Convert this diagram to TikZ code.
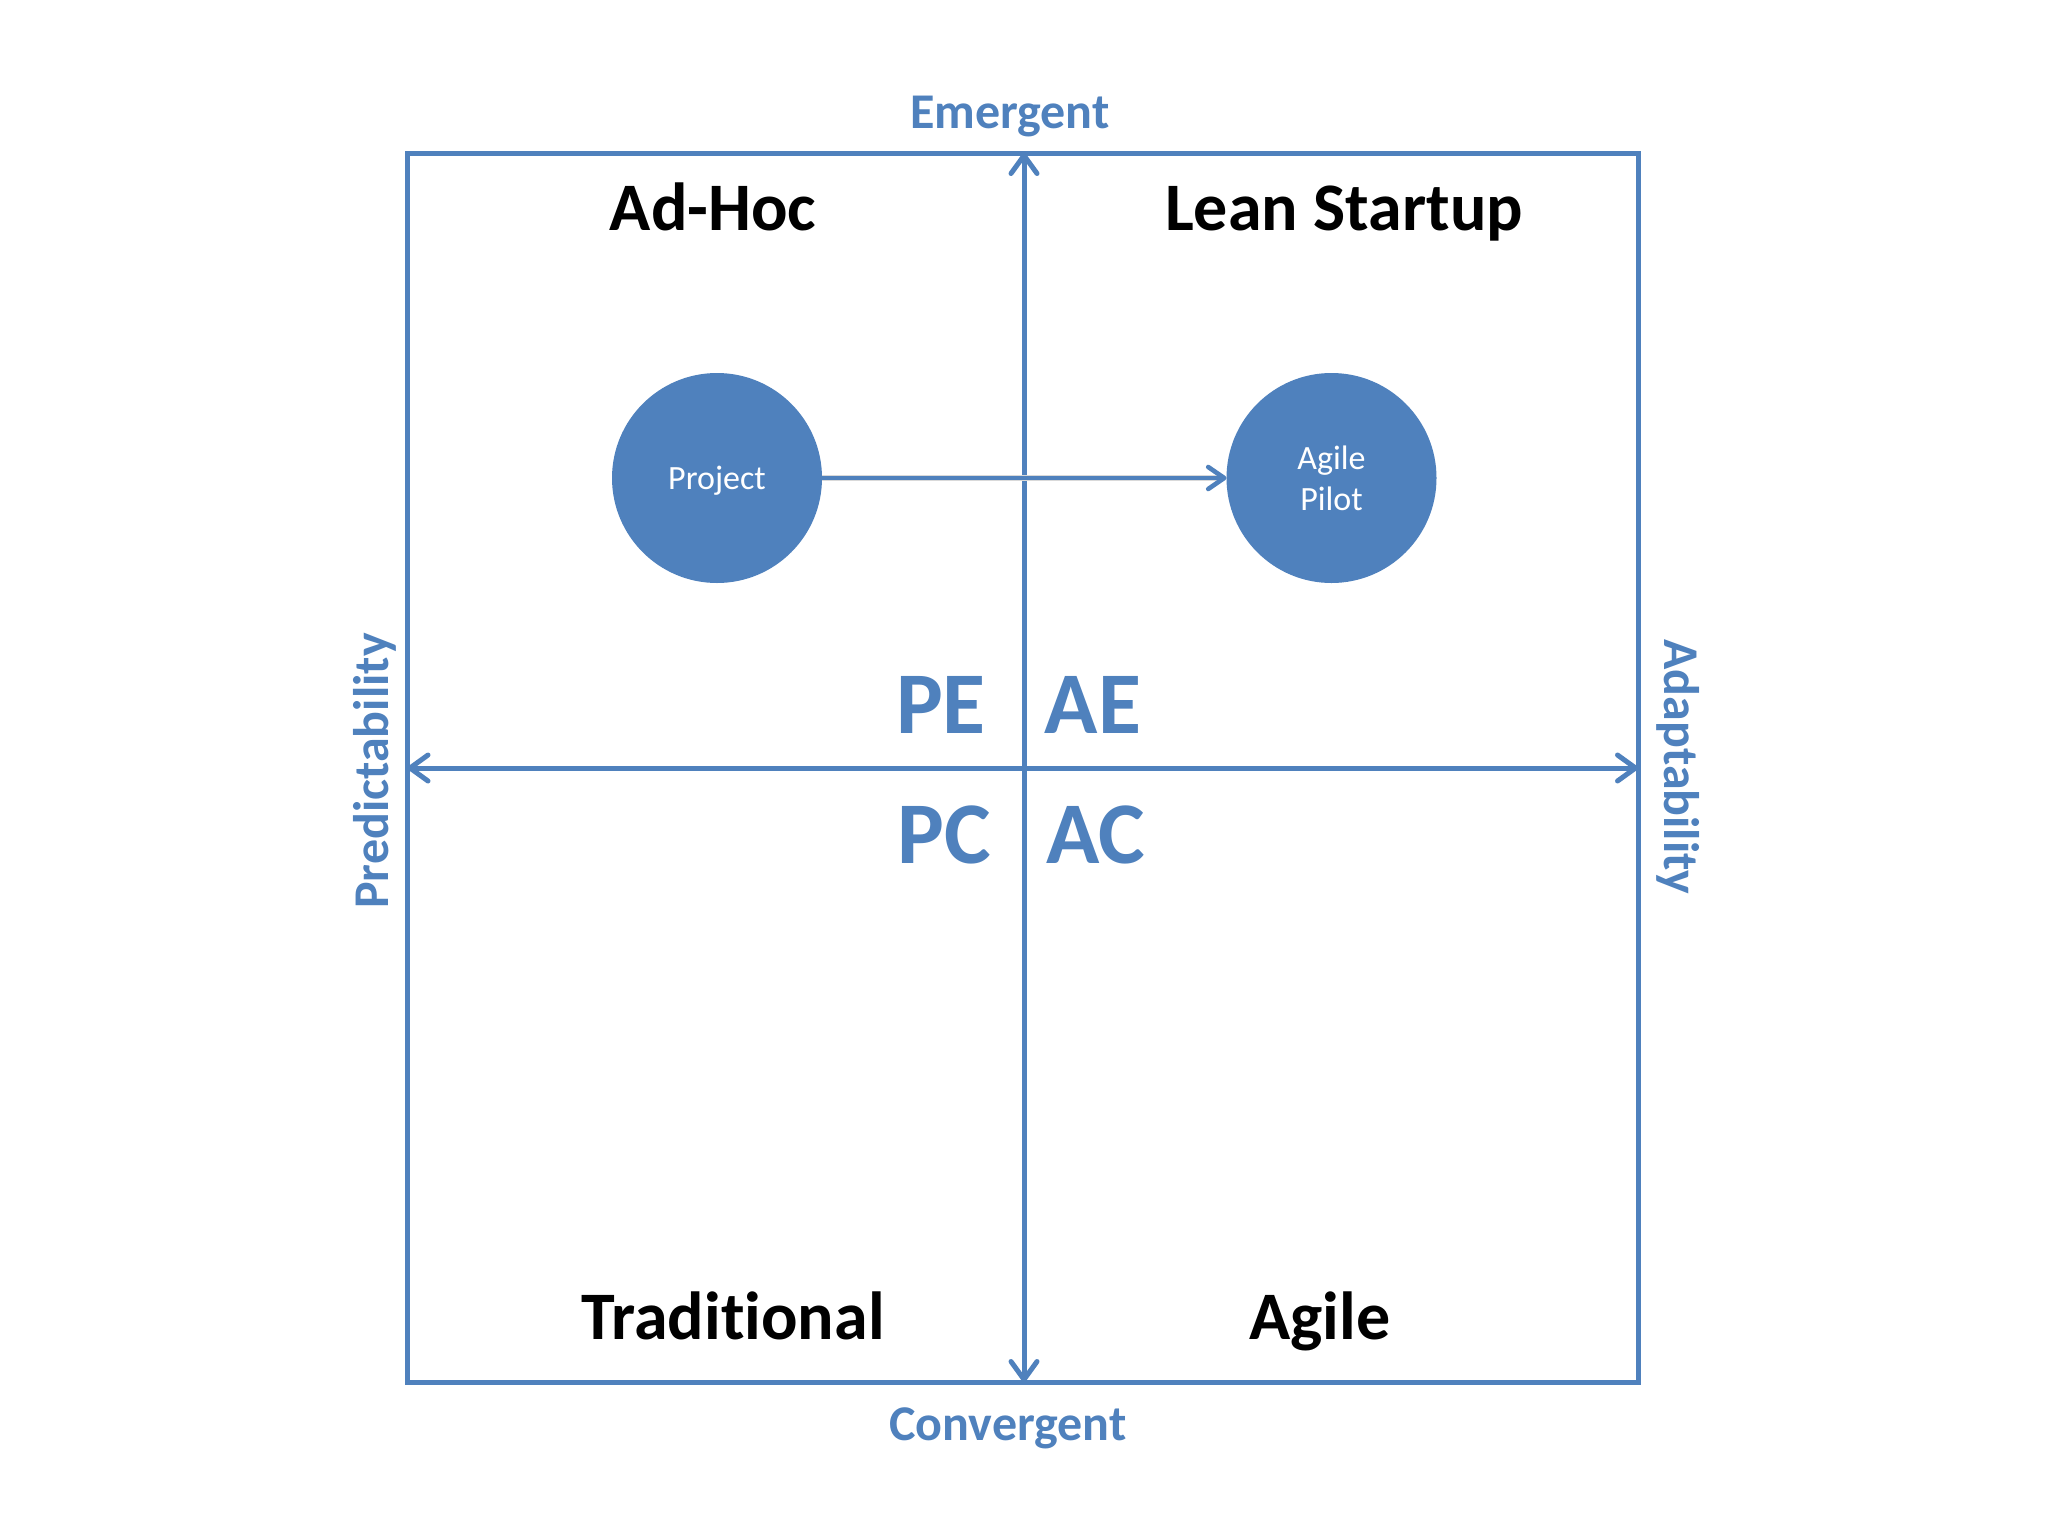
\documentclass[tikz,border=0pt]{standalone}
\usepackage{fontspec}
\setmainfont{Carlito}[Ligatures=NoCommon]
\usetikzlibrary{arrows.meta}
\definecolor{offblue}{HTML}{4F81BD}
\tikzset{
  axisline/.style={draw=offblue, line width=2.5pt, line cap=round},
  axisarrow/.style={axisline, {Straight Barb[length=9pt,width=13pt,round]}-{Straight Barb[length=9pt,width=13pt,round]}},
  bubble/.style={circle, fill=offblue, inner sep=0pt, outer sep=0pt, minimum size=105pt, text=white, align=center, font=\fontsize{17}{20}\selectfont},
  quad/.style={anchor=base, text=black, font=\fontsize{34}{40}\selectfont\bfseries},
  code/.style={anchor=base, text=offblue, font=\fontsize{44}{50}\selectfont\bfseries},
  axislabel/.style={anchor=base, text=offblue, font=\fontsize{25}{30}\selectfont\bfseries},
}
\begin{document}
\begin{tikzpicture}[x=0.5pt,y=-0.5pt]
\useasboundingbox (0,0) rectangle (2048,1536);
\fill[white] (0,0) rectangle (2048,1536);
% box
\coordinate (TL) at (407.5,153);
\coordinate (BR) at (1638,1382);
\coordinate (Top) at (1024,153);
\coordinate (Bot) at (1024,1382);
\coordinate (Lft) at (407.5,768);
\coordinate (Rgt) at (1638,768);
\draw[axisline, line cap=butt, line join=miter] (TL) rectangle (BR);
\draw[axisarrow] (Bot) -- (Top);
\draw[axisarrow] (Lft) -- (Rgt);
% axis labels
\node[axislabel] (emergent) at (1010,128) {Emergent};
\node[axislabel] (convergent) at (1008,1440) {Convergent};
\node[axislabel, rotate=90] (predict) at (388,771) {Predictability};
\node[axislabel, rotate=-90] (adapt) at (1664,767) {Adaptability};
% quadrant names
\node[quad] (adhoc) at (713,230) {Ad-Hoc};
\node[quad] (lean) at (1344,230) {Lean Startup};
\node[quad] (trad) at (733,1339) {Traditional};
\node[quad] (agile) at (1320,1339) {Agile};
% codes
\node[code] (pe) at (941,733) {PE};
\node[code] (ae) at (1093,733) {AE};
\node[code] (pc) at (944,863) {PC};
\node[code] (ac) at (1095.5,863) {AC};
% bubbles
\node[bubble, text depth=0pt] (project) at (717,478) {Project};
\node[bubble] (pilot) at (1331.5,478) {Agile\\[0.5pt]Pilot};
\draw[black!15, line width=3pt, shift={(1pt,-2.5pt)}] (project.east) -- ([xshift=-4pt]pilot.west);
\draw[offblue, line width=2.3pt, line cap=round, -{Straight Barb[length=8pt,width=11pt,round]}] (project) -- (pilot);
\end{tikzpicture}
\end{document}
